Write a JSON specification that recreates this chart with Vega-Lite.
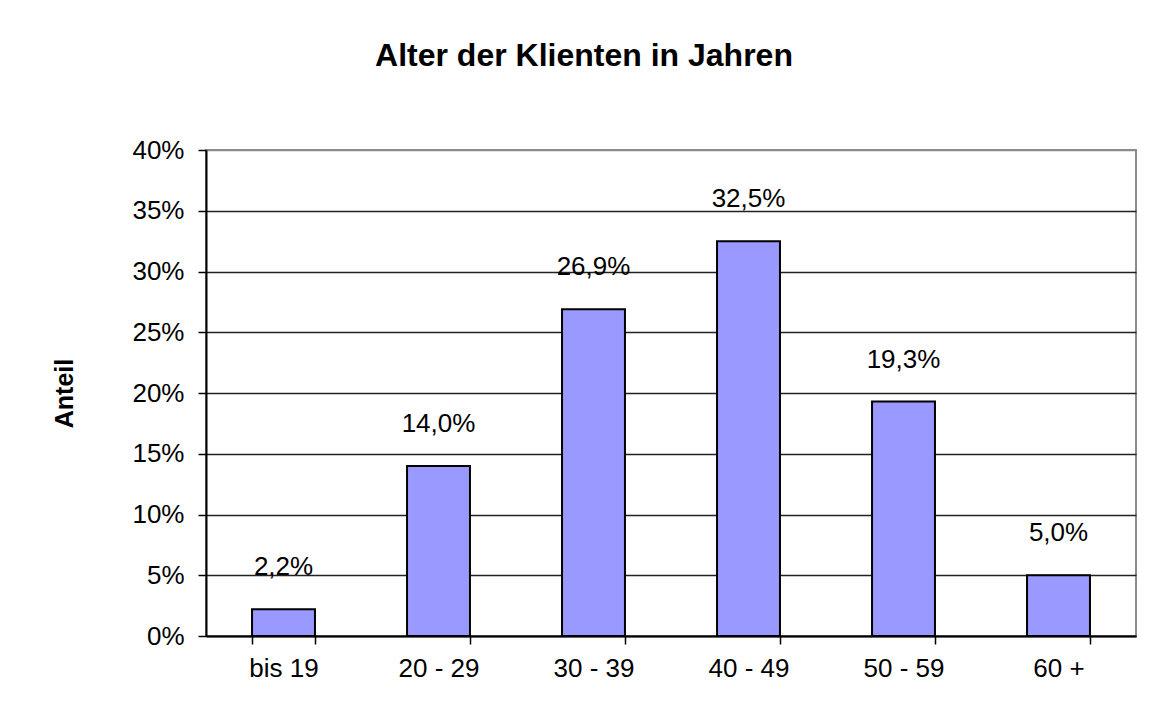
{
  "$schema": "https://vega.github.io/schema/vega-lite/v6.json",
  "autosize": {"type": "none"},
  "width": 930,
  "height": 486,
  "padding": {"left": 206, "top": 150, "right": 21, "bottom": 88},
  "background": "white",
  "config": {
    "locale": {"number": {"decimal": ",", "thousands": ".", "grouping": [3], "currency": ["", " €"]}},
    "font": "Liberation Sans",
    "view": {"stroke": "#8c8c8c", "strokeWidth": 2}
  },
  "title": {
    "text": "Alter der Klienten in Jahren",
    "font": "Liberation Sans",
    "fontSize": 32,
    "fontWeight": "bold",
    "color": "black",
    "anchor": "middle",
    "frame": "group",
    "dx": -87,
    "baseline": "alphabetic",
    "offset": 39
  },
  "data": {
    "values": [
      {"Alter": "bis 19", "Anteil": 0.022},
      {"Alter": "20 - 29", "Anteil": 0.140},
      {"Alter": "30 - 39", "Anteil": 0.269},
      {"Alter": "40 - 49", "Anteil": 0.325},
      {"Alter": "50 - 59", "Anteil": 0.193},
      {"Alter": "60 +", "Anteil": 0.050}
    ]
  },
  "encoding": {
    "x": {
      "field": "Alter",
      "type": "nominal",
      "sort": null,
      "scale": {"paddingInner": 0.594, "paddingOuter": 0.297},
      "axis": {
        "title": null,
        "labelAngle": 0,
        "labelFont": "Liberation Sans",
        "labelFontSize": 26,
        "labelColor": "black",
        "labelPadding": 11,
        "domainColor": "black",
        "domainWidth": 2,
        "tickColor": "black",
        "tickWidth": 1.5,
        "tickSize": 8,
        "tickBand": "extent"
      }
    },
    "y": {
      "field": "Anteil",
      "type": "quantitative",
      "scale": {"domain": [0, 0.4], "nice": false},
      "axis": {
        "title": "Anteil",
        "titleFont": "Liberation Sans",
        "titleFontSize": 25,
        "titleFontWeight": "bold",
        "titleColor": "black",
        "titlePadding": 54,
        "values": [0, 0.05, 0.1, 0.15, 0.2, 0.25, 0.3, 0.35, 0.4],
        "format": ".0%",
        "labelFont": "Liberation Sans",
        "labelFontSize": 26,
        "labelColor": "black",
        "labelPadding": 14,
        "domainColor": "black",
        "domainWidth": 2,
        "tickColor": "black",
        "tickWidth": 1.5,
        "tickSize": 8,
        "grid": true,
        "gridColor": {"condition": {"test": "datum.value >= 0.4", "value": "#8c8c8c"}, "value": "#222222"},
        "gridWidth": 1.3,
        "gridOpacity": 1
      }
    }
  },
  "layer": [
    {
      "mark": {"type": "bar", "color": "#9999ff", "stroke": "black", "strokeWidth": 2}
    },
    {
      "mark": {"type": "text", "baseline": "middle", "align": "center", "dy": -42, "fontSize": 26, "font": "Liberation Sans", "color": "black"},
      "encoding": {
        "text": {"field": "Anteil", "type": "quantitative", "format": ".1%"}
      }
    }
  ]
}
